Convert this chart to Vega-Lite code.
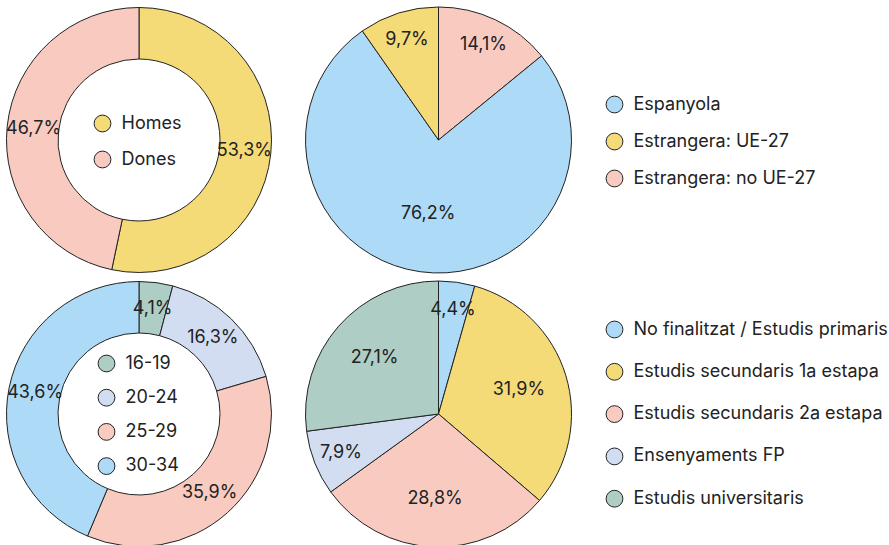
{
  "$schema": "https://vega.github.io/schema/vega-lite/v6.json",
  "padding": 0,
  "spacing": 0,
  "bounds": "flush",
  "columns": 2,
  "background": "white",
  "config": {
    "view": {"stroke": null},
    "font": "Inter",
    "legend": {
      "labelFont": "Inter",
      "labelFontSize": 18,
      "labelColor": "#222222",
      "labelLimit": 400,
      "labelOffset": 10,
      "symbolType": "circle",
      "symbolSize": 283,
      "symbolStrokeColor": "#222222",
      "symbolStrokeWidth": 1,
      "title": null,
      "padding": 0
    }
  },
  "resolve": {
    "scale": {"color": "independent", "theta": "independent", "radius": "independent"},
    "legend": {"color": "independent"}
  },
  "datasets": {
    "sexe": [
      {"cat": "Homes", "v": 53.3, "o": 1, "lab": "53,3%"},
      {"cat": "Dones", "v": 46.7, "o": 2, "lab": "46,7%"}
    ],
    "nac": [
      {"cat": "Estrangera: no UE-27", "v": 14.1, "o": 1, "lab": "14,1%"},
      {"cat": "Espanyola", "v": 76.2, "o": 2, "lab": "76,2%"},
      {"cat": "Estrangera: UE-27", "v": 9.7, "o": 3, "lab": "9,7%"}
    ],
    "edat": [
      {"cat": "16-19", "v": 4.1, "o": 1, "lab": "4,1%"},
      {"cat": "20-24", "v": 16.3, "o": 2, "lab": "16,3%"},
      {"cat": "25-29", "v": 35.9, "o": 3, "lab": "35,9%"},
      {"cat": "30-34", "v": 43.6, "o": 4, "lab": "43,6%"}
    ],
    "estudis": [
      {"cat": "No finalitzat / Estudis primaris", "v": 4.4, "o": 1, "lab": "4,4%"},
      {"cat": "Estudis secundaris 1a estapa", "v": 31.9, "o": 2, "lab": "31,9%"},
      {"cat": "Estudis secundaris 2a estapa", "v": 28.8, "o": 3, "lab": "28,8%"},
      {"cat": "Ensenyaments FP", "v": 7.9, "o": 4, "lab": "7,9%"},
      {"cat": "Estudis universitaris", "v": 27.1, "o": 5, "lab": "27,1%"}
    ]
  },
  "concat": [
    {
      "width": 278, "height": 280,
      "data": {"name": "sexe"},
      "encoding": {
        "theta": {"field": "v", "type": "quantitative", "stack": true},
        "order": {"field": "o", "type": "quantitative"}
      },
      "layer": [
        {
          "mark": {"type": "arc", "outerRadius": 132.5, "innerRadius": 81, "stroke": "#222222", "strokeWidth": 1},
          "encoding": {
            "color": {"field": "cat", "type": "nominal",
              "scale": {"domain": ["Homes", "Dones"], "range": ["#F5DA78", "#F9CBC0"]},
              "legend": {"orient": "none", "legendX": 93.5, "legendY": 114.5, "rowPadding": 14}}
          }
        },
        {
          "mark": {"type": "text", "radius": 106, "fontSize": 18, "fill": "#222222"},
          "encoding": {"text": {"field": "lab", "type": "nominal"}}
        }
      ]
    },
    {
      "width": 321, "height": 280,
      "data": {"name": "nac"},
      "encoding": {
        "theta": {"field": "v", "type": "quantitative", "stack": true},
        "order": {"field": "o", "type": "quantitative"}
      },
      "layer": [
        {
          "mark": {"type": "arc", "outerRadius": 133, "stroke": "#222222", "strokeWidth": 1},
          "encoding": {
            "color": {"field": "cat", "type": "nominal",
              "scale": {"domain": ["Espanyola", "Estrangera: UE-27", "Estrangera: no UE-27"], "range": ["#ADDAF7", "#F5DA78", "#F9CBC0"]},
              "legend": {"orient": "none", "legendX": 327.5, "legendY": 95.5, "rowPadding": 15}}
          }
        },
        {
          "mark": {"type": "text", "fontSize": 18, "fill": "#222222"},
          "encoding": {
            "text": {"field": "lab", "type": "nominal"},
            "radius": {"field": "v", "type": "quantitative", "scale": {"domain": [15, 27, 76], "range": [105, 85, 75], "clamp": true, "zero": false}}
          }
        }
      ]
    },
    {
      "width": 278, "height": 268,
      "data": {"name": "edat"},
      "encoding": {
        "theta": {"field": "v", "type": "quantitative", "stack": true},
        "order": {"field": "o", "type": "quantitative"}
      },
      "layer": [
        {
          "mark": {"type": "arc", "outerRadius": 132.5, "innerRadius": 81, "stroke": "#222222", "strokeWidth": 1},
          "encoding": {
            "color": {"field": "cat", "type": "nominal",
              "scale": {"domain": ["16-19", "20-24", "25-29", "30-34"], "range": ["#AECDC4", "#D2DDF2", "#F9CBC0", "#ADDAF7"]},
              "legend": {"orient": "none", "legendX": 97.5, "legendY": 74.5, "rowPadding": 12.2}}
          }
        },
        {
          "mark": {"type": "text", "radius": 106, "fontSize": 18, "fill": "#222222"},
          "encoding": {"text": {"field": "lab", "type": "nominal"}}
        }
      ]
    },
    {
      "width": 321, "height": 268,
      "data": {"name": "estudis"},
      "encoding": {
        "theta": {"field": "v", "type": "quantitative", "stack": true},
        "order": {"field": "o", "type": "quantitative"}
      },
      "layer": [
        {
          "mark": {"type": "arc", "outerRadius": 133, "stroke": "#222222", "strokeWidth": 1},
          "encoding": {
            "color": {"field": "cat", "type": "nominal",
              "scale": {"domain": ["No finalitzat / Estudis primaris", "Estudis secundaris 1a estapa", "Estudis secundaris 2a estapa", "Ensenyaments FP", "Estudis universitaris"], "range": ["#ADDAF7", "#F5DA78", "#F9CBC0", "#D2DDF2", "#AECDC4"]},
              "legend": {"orient": "none", "legendX": 327.5, "legendY": 40.5, "rowPadding": 20.3}}
          }
        },
        {
          "mark": {"type": "text", "fontSize": 18, "fill": "#222222"},
          "encoding": {
            "text": {"field": "lab", "type": "nominal"},
            "radius": {"field": "v", "type": "quantitative", "scale": {"domain": [15, 27, 76], "range": [105, 85, 75], "clamp": true, "zero": false}}
          }
        }
      ]
    }
  ]
}
